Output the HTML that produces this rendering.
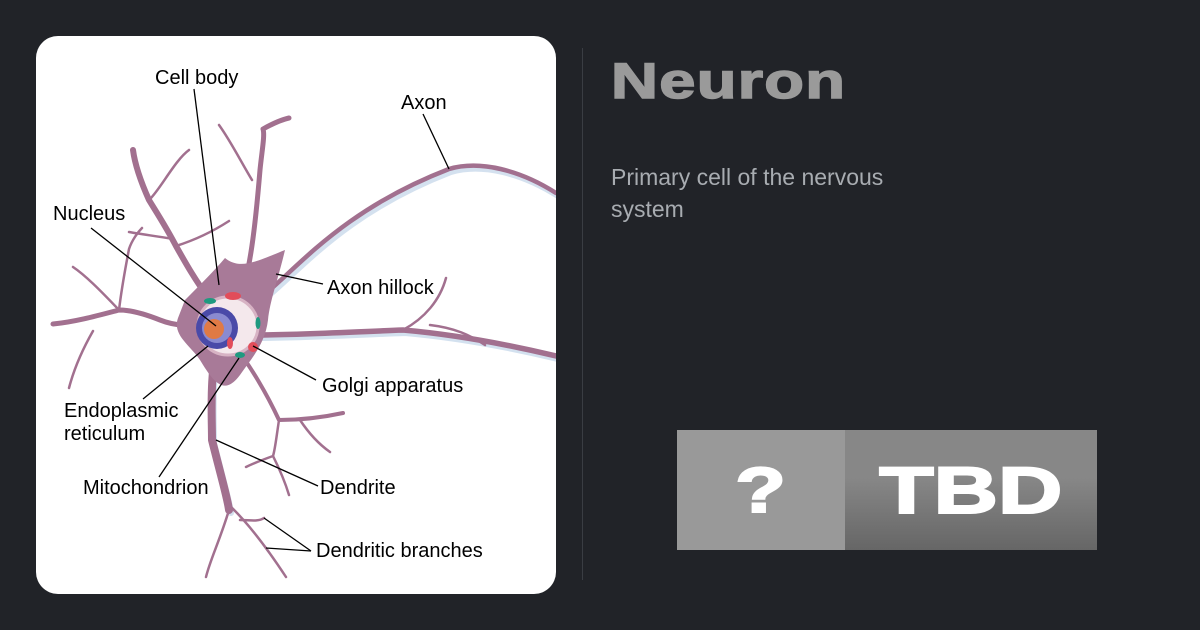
<!DOCTYPE html>
<html><head><meta charset="utf-8"><style>
html,body{margin:0;padding:0;width:1200px;height:630px;background:#212328;overflow:hidden;font-family:"Liberation Sans",sans-serif}
.card{position:absolute;left:36px;top:36px;width:520px;height:558px;background:#fff;border-radius:22px;overflow:hidden}
.div{position:absolute;left:582px;top:48px;width:1px;height:532px;background:#3a3d43}
h1{position:absolute;left:611px;top:52px;margin:0;font-size:50px;font-weight:900;color:#9a9a9a;letter-spacing:1px;transform:scaleX(1.3);transform-origin:left;-webkit-text-stroke:1.5px #9a9a9a}
.sub{position:absolute;left:611px;top:161px;width:340px;font-size:23px;line-height:32px;color:#a8acb1}
.q{position:absolute;left:677px;top:430px;width:168px;height:120px;background:#999;color:#fff;font-size:64px;font-weight:900;text-align:center;line-height:120px}
.q span{display:inline-block;transform:scaleX(1.3);-webkit-text-stroke:2px #fff}
.t{position:absolute;left:845px;top:430px;width:252px;height:120px;background:linear-gradient(#878787 40%,#666);color:#fff;font-size:66px;font-weight:900;text-align:center;line-height:120px}
.t span{display:inline-block;transform:scaleX(1.35);-webkit-text-stroke:2px #fff}
</style></head><body>
<div class="card">
<svg width="520" height="558" viewBox="36 36 520 558" xmlns="http://www.w3.org/2000/svg">
<g fill="none" stroke-linecap="round" stroke-linejoin="round">
<g stroke="#a9c4e0" stroke-width="6" opacity="0.5" transform="translate(2,3)">
<path d="M250,305 C290,280 330,215 449,169 C480,160 520,170 556,193"/>
<path d="M255,335 C300,335 350,332 403,330 C460,335 510,345 556,356"/>
<path d="M215,350 C210,390 212,420 212,440 C222,480 228,500 229,510"/>
</g>
<g stroke="#a2708f">
<path stroke-width="4.5" d="M250,305 C290,280 330,215 449,169 C480,160 520,170 556,193"/>
<path stroke-width="5.5" d="M255,335 C300,335 350,332 403,330 C460,335 510,345 556,356"/>
<path stroke-width="2.5" d="M403,330 C425,318 440,300 446,278"/>
<path stroke-width="2.5" d="M430,325 C455,328 470,335 485,345"/>
<path stroke-width="8" d="M215,350 C210,390 212,420 212,440 C222,480 228,500 229,510"/>
<path stroke-width="2.5" d="M229,510 C220,540 210,560 206,577"/>
<path stroke-width="2.5" d="M229,505 C245,520 265,545 286,577"/>
<path stroke-width="2.5" d="M240,520 C250,520 258,522 264,518"/>
<path stroke-width="4" d="M245,360 C262,385 272,405 279,420 C300,420 320,418 343,413"/>
<path stroke-width="2.5" d="M279,420 C276,440 275,450 273,456 C280,470 286,485 289,495"/>
<path stroke-width="2.5" d="M273,456 C262,460 252,464 246,467"/>
<path stroke-width="2.5" d="M300,420 C310,435 320,445 330,452"/>
<path stroke-width="5" d="M240,300 C250,270 255,230 260,170 C262,150 265,135 263,129 C272,124 280,120 289,118"/>
<path stroke-width="2.5" d="M252,180 C240,160 230,140 219,125"/>
<path stroke-width="6" d="M210,300 C195,280 185,262 176,246 C165,225 155,210 149,200 C140,180 135,165 133,150"/>
<path stroke-width="2.5" d="M149,200 C160,190 175,160 189,150"/>
<path stroke-width="2.5" d="M173,239 C155,236 140,234 129,232"/>
<path stroke-width="2.5" d="M176,246 C195,240 212,232 229,221"/>
<path stroke-width="5" d="M205,325 C190,326 175,326 160,320 C145,314 130,310 119,310 C100,315 75,322 53,324"/>
<path stroke-width="2.5" d="M119,310 C100,290 85,275 73,267"/>
<path stroke-width="2.5" d="M119,310 C122,285 126,265 129,249 C132,240 138,232 142,228"/>
<path stroke-width="2.5" d="M93,331 C85,345 75,365 69,388"/>
</g>
<path fill="#a87a98" d="M185,300 C200,285 215,270 225,258 C240,270 255,262 285,250 C278,280 270,300 268,320 C265,345 250,360 240,375 C225,395 215,385 200,360 C190,345 172,335 178,318 Z"/>
<ellipse cx="228" cy="326" rx="30" ry="29" fill="#f4e8ec" stroke="#d7b3c4" stroke-width="3"/>
<circle cx="217" cy="328" r="21" fill="#4a4aa8"/>
<circle cx="217" cy="328" r="15" fill="#8a8ad0"/>
<circle cx="214" cy="329" r="10" fill="#e07a45"/>
<ellipse cx="233" cy="296" rx="8" ry="4" fill="#e24d5a"/>
<ellipse cx="210" cy="301" rx="6" ry="3" fill="#1f9a80"/>
<ellipse cx="258" cy="323" rx="2.5" ry="6" fill="#1f9a80"/>
<ellipse cx="240" cy="355" rx="5" ry="3" fill="#1f9a80"/>
<ellipse cx="253" cy="347" rx="5" ry="5" fill="#e24d5a"/>
<ellipse cx="230" cy="343" rx="3" ry="6" fill="#e24d5a"/>
</g>
<g stroke="#000" stroke-width="1.3">
<line x1="194" y1="89" x2="219" y2="285"/>
<line x1="423" y1="114" x2="449" y2="169"/>
<line x1="91" y1="228" x2="216" y2="326"/>
<line x1="276" y1="274" x2="323" y2="284"/>
<line x1="253" y1="346" x2="316" y2="380"/>
<line x1="143" y1="399" x2="208" y2="346"/>
<line x1="159" y1="477" x2="239" y2="358"/>
<line x1="216" y1="440" x2="318" y2="486"/>
<line x1="264" y1="518" x2="311" y2="551"/>
<line x1="266" y1="548" x2="311" y2="551"/>
</g>
<g font-family="Liberation Sans, sans-serif" font-size="20" fill="#000">
<text x="155" y="84">Cell body</text>
<text x="401" y="109">Axon</text>
<text x="53" y="220">Nucleus</text>
<text x="327" y="294">Axon hillock</text>
<text x="322" y="392">Golgi apparatus</text>
<text x="64" y="417">Endoplasmic</text>
<text x="64" y="440">reticulum</text>
<text x="83" y="494">Mitochondrion</text>
<text x="320" y="494">Dendrite</text>
<text x="316" y="557">Dendritic branches</text>
</g>
</svg>
</div>
<div class="div"></div>
<h1>Neuron</h1>
<div class="sub">Primary cell of the nervous system</div>
<div class="q"><span>?</span></div>
<div class="t"><span>TBD</span></div>
</body></html>
